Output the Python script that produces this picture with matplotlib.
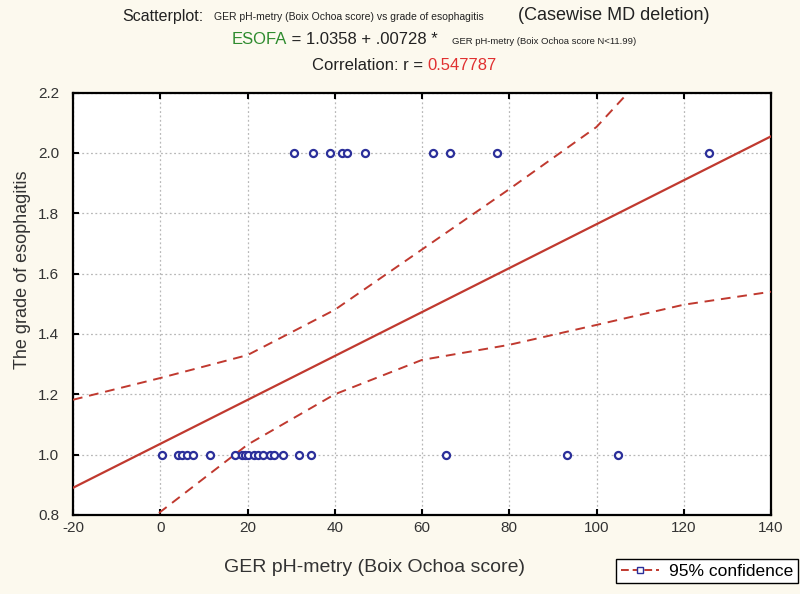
import matplotlib
matplotlib.use("Agg")
import matplotlib.pyplot as plt
from matplotlib.lines import Line2D
import numpy as np

plt.rcParams['font.family'] = ['Liberation Sans', 'DejaVu Sans']

# ---- data ----
x_grade1 = [0.4, 4.1, 5.0, 6.1, 7.5, 11.5, 17.2, 18.7, 19.5, 20.2, 21.4, 22.5,
            23.5, 25.2, 26.0, 28.1, 31.9, 34.6, 65.5, 93.2, 105.0]
x_grade2 = [30.7, 34.9, 39.0, 41.6, 42.8, 47.0, 62.6, 66.4, 77.3, 125.8]
intercept = 1.0358
slope = 0.00728
band_x = [-20, 0, 20, 40, 60, 80, 100, 120, 140]
band_upper = [1.182, 1.254, 1.33, 1.48, 1.68, 1.88, 2.086, 2.40, 2.75]
band_lower = [0.55, 0.81, 1.033, 1.20, 1.314, 1.364, 1.43, 1.497, 1.54]
x_ticks = [-20, 0, 20, 40, 60, 80, 100, 120, 140]
y_ticks = [0.8, 1.0, 1.2, 1.4, 1.6, 1.8, 2.0, 2.2]

BG = '#fcf9ee'
RED = '#c0392f'
BLUE = '#2b2f9a'
W, H = 800, 594

fig = plt.figure(figsize=(W / 100, H / 100), dpi=100, facecolor=BG)
ax = fig.add_axes([73 / W, 1 - 515 / H, (771 - 73) / W, (515 - 92.6) / H])
ax.set_facecolor('white')

ax.set_xlim(-20, 140)
ax.set_ylim(0.8, 2.2)
ax.set_xticks(x_ticks)
ax.set_yticks(y_ticks)
ax.set_xticklabels([str(t) for t in x_ticks])
ax.set_yticklabels([f"{t:.1f}" for t in y_ticks])
ax.tick_params(direction='in', length=4, width=1.5, colors='black',
               labelcolor='#333333', labelsize=11, top=True, right=False)
ax.tick_params(axis='y', pad=10)
ax.tick_params(axis='x', pad=4)
ax.grid(True, linestyle=(0, (1.5, 2)), color='#b8b8b8', linewidth=0.9)
for s in ax.spines.values():
    s.set_linewidth(1.6)
    s.set_color('black')

xr = np.array([-20, 140])
ax.plot(xr, intercept + slope * xr, color=RED, lw=1.6, zorder=3)
ax.plot(band_x, band_upper, color=RED, lw=1.4, ls=(0, (5, 3.5)), zorder=3)
ax.plot(band_x, band_lower, color=RED, lw=1.4, ls=(0, (5, 3.5)), zorder=3)

ax.scatter(x_grade1, [1.0] * len(x_grade1), s=26, facecolors='white',
           edgecolors=BLUE, linewidths=1.6, zorder=4)
ax.scatter(x_grade2, [2.0] * len(x_grade2), s=26, facecolors='white',
           edgecolors=BLUE, linewidths=1.6, zorder=4)

fig.text(375 / W, 1 - 567 / H, 'GER pH-metry (Boix Ochoa score)', fontsize=14,
         color='#333333', ha='center', va='center')
fig.text(23 / W, 1 - 270 / H, 'The grade of esophagitis', fontsize=13,
         color='#333333', ha='center', va='center', rotation=90)


def put(x_px, y_px, txt, size, color='#222222'):
    return fig.text(x_px / W, 1 - y_px / H, txt, fontsize=size, color=color,
                    ha='left', va='center')


fig.canvas.draw()
r = fig.canvas.get_renderer()

# title line 1
put(122, 16, 'Scatterplot:', 11.5)
put(214, 17, 'GER pH-metry (Boix Ochoa score) vs grade of esophagitis', 7.5)
put(518, 16, '(Casewise MD deletion)', 13)
# title line 2
t1 = put(232, 40, 'ESOFA', 12, '#2e8b2e')
w1 = t1.get_window_extent(r).width
put(232 + w1, 40, ' = 1.0358 + .00728 *', 12)
put(452, 41, 'GER pH-metry (Boix Ochoa score N<11.99)', 6.8)
# title line 3
t3a = put(0, 65, 'Correlation: r = ', 12)
t3b = put(0, 65, '0.547787', 12, '#e03030')
wa = t3a.get_window_extent(r).width
wb = t3b.get_window_extent(r).width
x0 = 404 - (wa + wb) / 2
t3a.set_x(x0 / W)
t3b.set_x((x0 + wa) / W)

handle = Line2D([0], [0], color=RED, lw=1.4, ls=(0, (4, 2)), marker='s',
                markersize=5, markerfacecolor='white', markeredgecolor=BLUE)
fig.legend([handle], ['95% confidence'], loc='lower right',
           bbox_to_anchor=(798 / W, 11 / H), frameon=True, fancybox=False,
           edgecolor='black', facecolor='white', fontsize=12.5, borderaxespad=0,
           handlelength=2.2, borderpad=0.25, handletextpad=0.6, framealpha=1)

fig.savefig('out.png', dpi=100, facecolor=BG)
